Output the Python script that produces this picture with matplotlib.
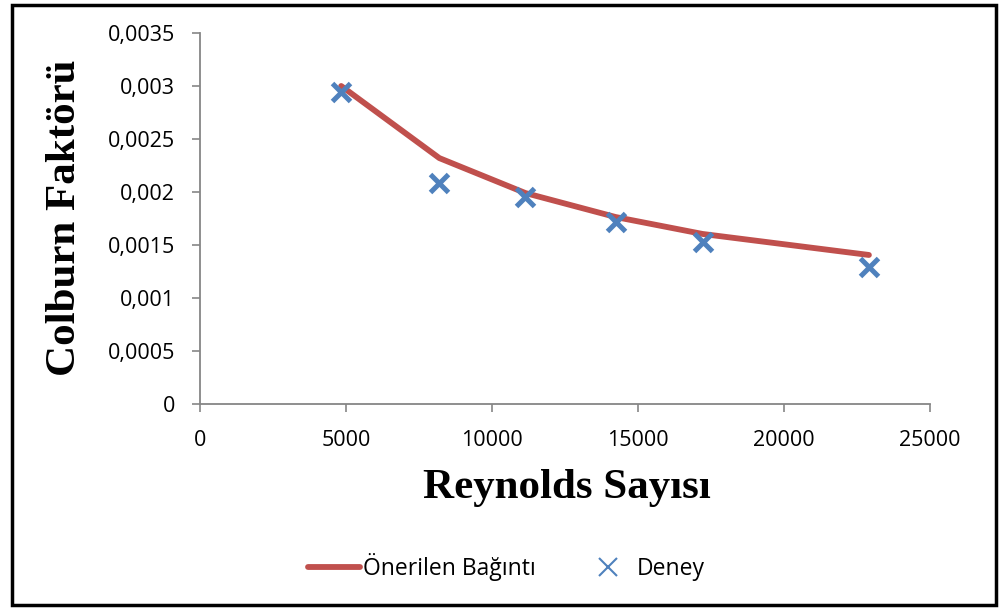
import matplotlib
matplotlib.use("Agg")
import matplotlib.pyplot as plt
from matplotlib.lines import Line2D
from matplotlib.patches import Rectangle
from matplotlib.ticker import FuncFormatter

# Proposed correlation (line)
re_model = [4835, 8196, 11145, 14232, 17215, 22908]
j_model = [0.00300, 0.00232, 0.00199, 0.001764, 0.001604, 0.001406]

# Experimental points
re_exp = [4835, 8196, 11145, 14232, 17215, 22908]
j_exp = [0.002943, 0.002085, 0.001953, 0.001717, 0.001528, 0.001292]

x_ticks = [0, 5000, 10000, 15000, 20000, 25000]
y_ticks = [0, 0.0005, 0.001, 0.0015, 0.002, 0.0025, 0.003, 0.0035]

red = "#C0504D"
blue = "#4F81BD"
gray = "#868686"
tick_font = "Open Sans"

fig = plt.figure(figsize=(10, 6.1), dpi=100)
ax = fig.add_axes([0.2, 1 - 404 / 610, 0.73, (404 - 33) / 610])

ax.plot(re_model, j_model, color=red, lw=4.2, solid_capstyle="round",
        solid_joinstyle="round", zorder=2)
ax.plot(re_exp, j_exp, ls="none", marker="x", ms=13, mew=3.6,
        color=blue, zorder=3)

ax.set_xlim(0, 25000)
ax.set_ylim(0, 0.0035)
ax.set_xticks(x_ticks)
ax.set_yticks(y_ticks)


def comma_fmt(v, pos):
    s = ("%.4f" % v).rstrip("0").rstrip(".")
    return s.replace(".", ",")


ax.yaxis.set_major_formatter(FuncFormatter(comma_fmt))
ax.xaxis.set_major_formatter(FuncFormatter(lambda v, p: "%d" % v))

for side in ("top", "right"):
    ax.spines[side].set_visible(False)
for side in ("left", "bottom"):
    ax.spines[side].set_color(gray)
    ax.spines[side].set_linewidth(1.3)

ax.tick_params(axis="both", direction="out", length=6, width=1.2,
               color=gray, labelsize=15.5)
ax.tick_params(axis="x", pad=13)
ax.tick_params(axis="y", pad=12)
for lbl in ax.get_xticklabels() + ax.get_yticklabels():
    lbl.set_fontfamily(tick_font)

fig.text(0.065, 1 - 218 / 610, "Colburn Faktörü", rotation=90,
         ha="center", va="center", fontsize=31, fontweight="bold",
         family="Liberation Serif")
fig.text(0.567, 1 - 488 / 610, "Reynolds Sayısı", ha="center",
         va="center", fontsize=31, fontweight="bold",
         family="Liberation Serif")

handles = [
    Line2D([], [], color=red, lw=4.2, solid_capstyle="round"),
    Line2D([], [], ls="none", marker="x", ms=13, mew=1.5, color=blue),
]
leg = fig.legend(handles, ["Önerilen Bağıntı", "Deney"],
                 loc="center", bbox_to_anchor=(0.506, 1 - 567 / 610),
                 ncol=2, frameon=False, handlelength=2.3,
                 handletextpad=0.1, columnspacing=2.0,
                 prop={"family": tick_font, "size": 16.5})

# Figure border
fig.patches.append(Rectangle((0.012, 0.008), 0.984, 0.984,
                             transform=fig.transFigure, fill=False,
                             edgecolor="black", lw=2.5, zorder=10))

fig.savefig("out.png", dpi=100)
